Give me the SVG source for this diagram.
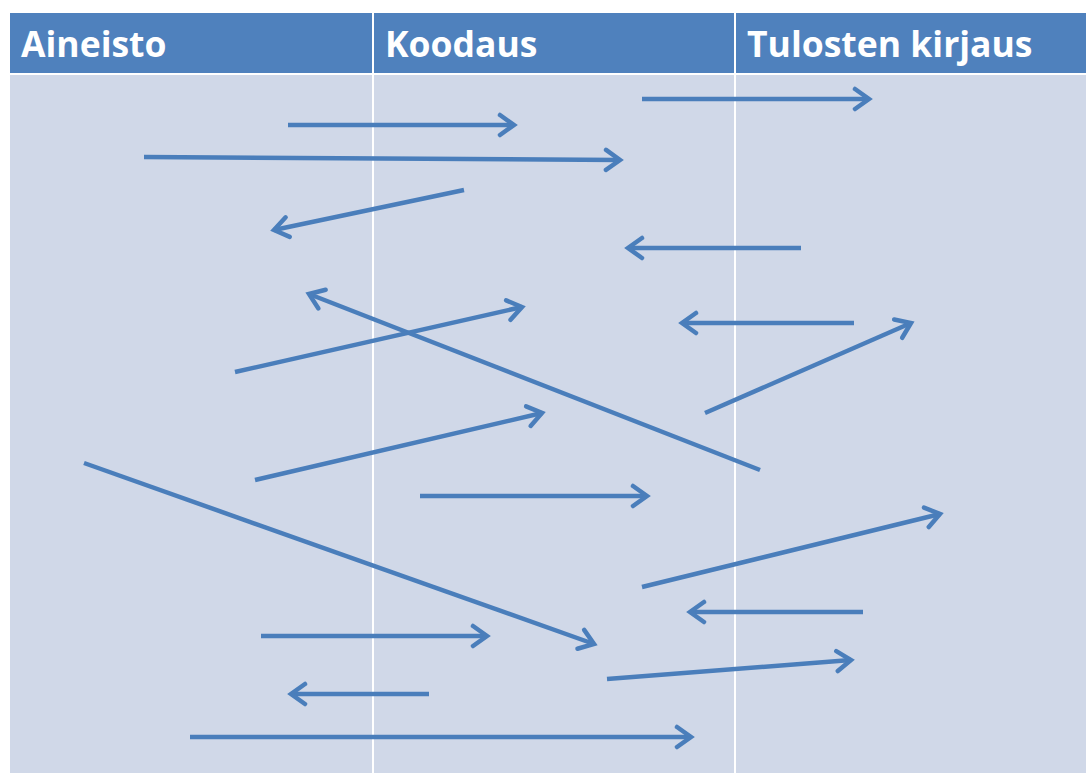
<svg xmlns="http://www.w3.org/2000/svg" width="1086" height="773" viewBox="0 0 1086 773">
<style>
.hdr{fill:#4F81BD}
.body{fill:#D0D8E8}
.sep{stroke:#FFFFFF;stroke-width:2}
.ht{font-family:"Open Sans","Liberation Sans",sans-serif;font-weight:bold;font-size:35.5px;fill:#FFFFFF}
.ar{stroke:#4A7EBB;stroke-width:4.5;fill:none;marker-end:url(#ah)}
</style>
<defs>
<marker id="ah" markerUnits="userSpaceOnUse" viewBox="-18 -13 22 26" markerWidth="22" markerHeight="26" refX="0" refY="0" orient="auto">
<path d="M-14,-10 L0,0 L-14,10" fill="none" stroke="#4A7EBB" stroke-width="4.5" stroke-linecap="round" stroke-linejoin="miter"/>
</marker>
</defs>
<rect width="1086" height="773" fill="#FFFFFF"/>
<g id="table">
<rect class="hdr" x="10" y="13" width="1076" height="60"/>
<rect class="body" x="10" y="75" width="1076" height="698"/>
<line class="sep" x1="373" y1="13" x2="373" y2="773"/>
<line class="sep" x1="735" y1="13" x2="735" y2="773"/>
</g>
<g id="col-aineisto"><text class="ht" x="21" y="57">Aineisto</text></g>
<g id="col-koodaus"><text class="ht" x="385" y="57">Koodaus</text></g>
<g id="col-tulosten"><text class="ht" x="747" y="57">Tulosten kirjaus</text></g>
<g id="connectors">
<line class="ar" x1="288" y1="125" x2="514" y2="125"/>
<line class="ar" x1="144" y1="157" x2="620" y2="160"/>
<line class="ar" x1="464" y1="190" x2="274" y2="230"/>
<line class="ar" x1="642" y1="99" x2="869" y2="99"/>
<line class="ar" x1="801" y1="248" x2="628" y2="248"/>
<line class="ar" x1="760" y1="470" x2="309" y2="294"/>
<line class="ar" x1="235" y1="372" x2="522" y2="307"/>
<line class="ar" x1="854" y1="323" x2="682" y2="323"/>
<line class="ar" x1="705" y1="413" x2="911" y2="323"/>
<line class="ar" x1="255" y1="480" x2="542" y2="413"/>
<line class="ar" x1="420" y1="496" x2="647" y2="496"/>
<line class="ar" x1="84" y1="463" x2="594" y2="644"/>
<line class="ar" x1="642" y1="587" x2="940" y2="514"/>
<line class="ar" x1="863" y1="612" x2="690" y2="612"/>
<line class="ar" x1="261" y1="636" x2="487" y2="636"/>
<line class="ar" x1="607" y1="679" x2="851" y2="660"/>
<line class="ar" x1="429" y1="694" x2="291" y2="694"/>
<line class="ar" x1="190" y1="737" x2="691" y2="737"/>
</g>
</svg>
